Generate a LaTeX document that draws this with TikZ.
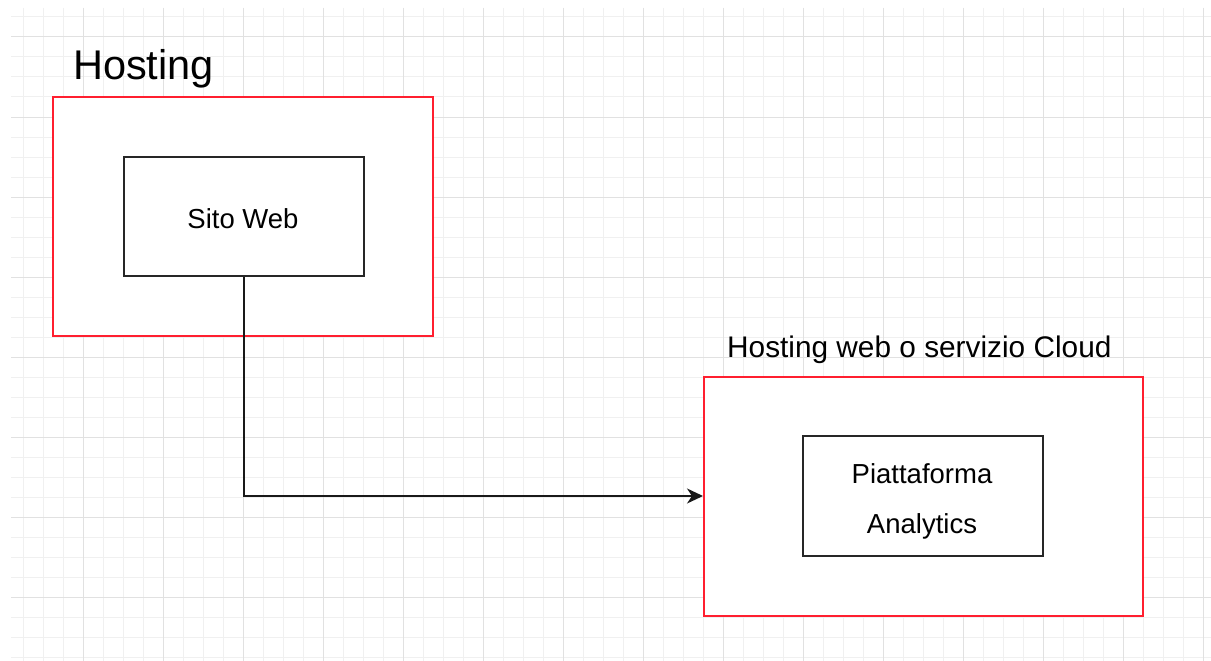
\documentclass[tikz,border=0pt]{standalone}
\usepackage{fontspec}
\setmainfont{Liberation Sans}
\usetikzlibrary{arrows.meta}
\definecolor{gridminor}{HTML}{F0F0F0}
\definecolor{gridmajor}{HTML}{E1E1E1}
\definecolor{boxred}{HTML}{FF1F2F}
\begin{document}
\begin{tikzpicture}[x=1pt,y=-1pt,
  minorline/.style={draw=gridminor,line width=1pt},
  majorline/.style={draw=gridmajor,line width=1pt},
  outerbox/.style={draw=boxred,line width=2pt,fill=white,rectangle,inner sep=0pt},
  innerbox/.style={draw=black!85,line width=2pt,fill=white,rectangle,inner sep=0pt},
  txt/.style={inner sep=0pt,font=\fontsize{27.5}{33}\selectfont},
  conn/.style={draw=black!90,line width=2pt,-{Stealth[length=16pt,width=15pt,inset=5pt]}}
]
\useasboundingbox (0,0) rectangle (1211,661);
\fill[white] (0,0) rectangle (1211,661);
% grid
\foreach \i in {1,...,60} {
  \pgfmathtruncatemacro{\xx}{3+20*\i}
  \draw[minorline] (\xx,8) -- (\xx,661);
}
\foreach \j in {0,...,32} {
  \pgfmathtruncatemacro{\yy}{17+20*\j}
  \draw[minorline] (11,\yy) -- (1211,\yy);
}
\foreach \i in {1,...,15} {
  \pgfmathtruncatemacro{\xx}{3+80*\i}
  \draw[majorline] (\xx,8) -- (\xx,661);
}
\foreach \j in {0,...,7} {
  \pgfmathtruncatemacro{\yy}{37+80*\j}
  \draw[majorline] (11,\yy) -- (1211,\yy);
}
% boxes
\node[outerbox,minimum width=380pt,minimum height=239pt] (hosting) at (243,216.5) {};
\node[innerbox,minimum width=240pt,minimum height=119pt] (sito) at (244,216.5) {};
\node[outerbox,minimum width=439pt,minimum height=239pt] (cloud) at (923.5,496) {};
\node[innerbox,minimum width=240pt,minimum height=120pt] (analytics) at (923,496) {};
% labels
\node[inner sep=0pt,anchor=base west,font=\fontsize{41.5}{48}\selectfont] (hostingtitle) at (73,80) {Hosting};
\node[inner sep=0pt,anchor=base west,font=\fontsize{29.8}{35}\selectfont] (cloudtitle) at (727,357) {Hosting web o servizio Cloud};
\node[txt,anchor=base] (sitotext) at (243,228) {Sito Web};
\node[txt,anchor=base] (piattext) at (922,483) {Piattaforma};
\node[txt,anchor=base] (analtext) at (922,533) {Analytics};
% connector
\draw[conn] (sito.south) |- (cloud.west);
\end{tikzpicture}
\end{document}
